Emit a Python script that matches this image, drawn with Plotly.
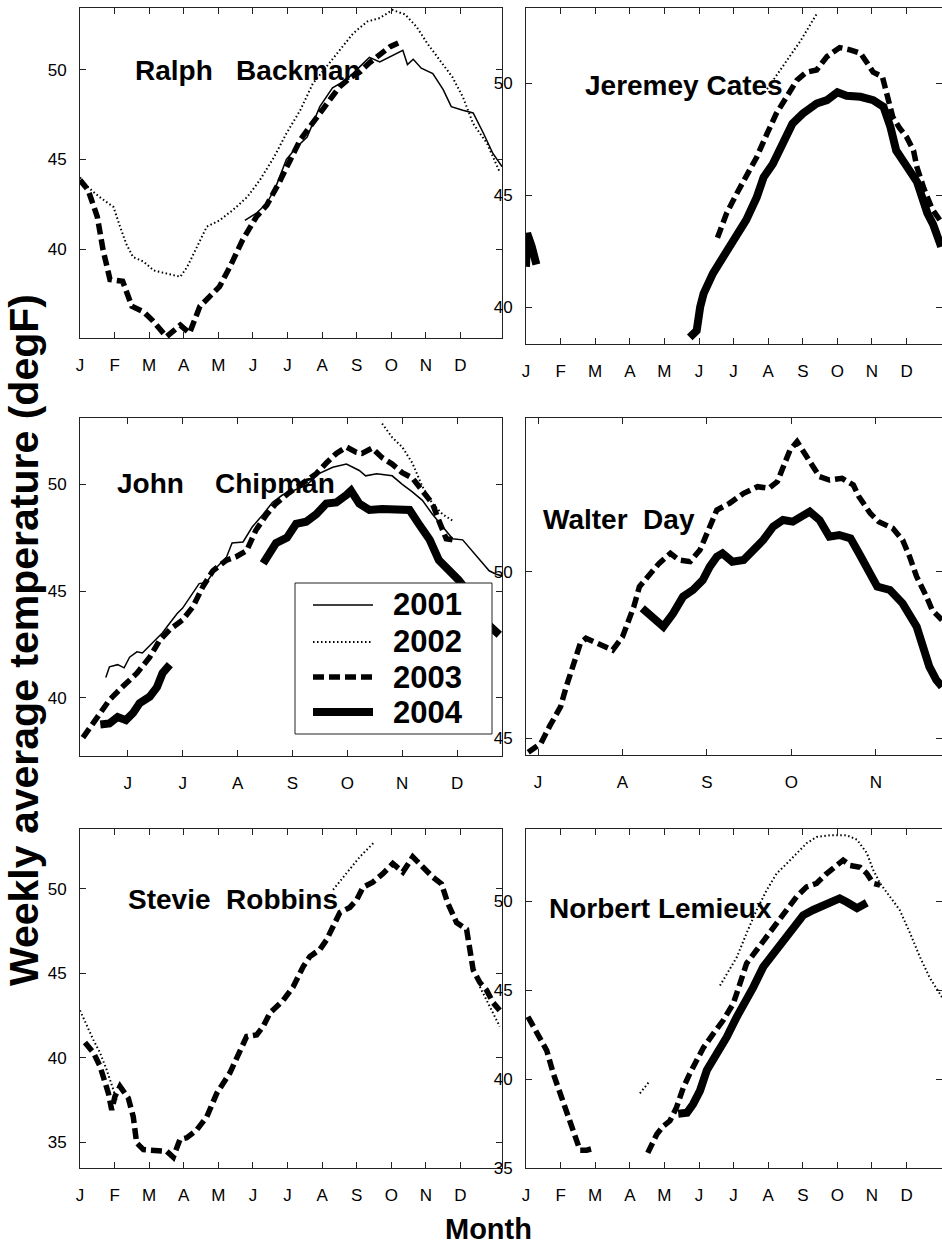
import plotly.graph_objects as go

# ---------------- data (day of year, weekly average temperature degF) ----------------
MONTH_TICKS = [0, 30, 60, 90, 120, 150, 180, 210, 240, 270, 300, 330]
MONTH_LABELS = ["J", "F", "M", "A", "M", "J", "J", "A", "S", "O", "N", "D"]
YEARS = ["2001", "2002", "2003", "2004"]
PANEL_NAMES = ["Ralph\u00a0\u00a0\u00a0Backman", "Jeremey Cates", "John\u00a0\u00a0\u00a0\u00a0Chipman",
               "Walter\u00a0\u00a0Day", "Stevie\u00a0\u00a0Robbins", "Norbert Lemieux"]

BACKMAN_2001_DAY = [143, 153, 162, 170, 179, 188, 197, 208, 219, 231, 243, 251, 260, 269, 280, 284, 289, 296, 306, 315, 322, 332, 341, 350, 358, 366]
BACKMAN_2001_T = [41.6, 42.0, 42.55, 43.5, 45.0, 45.7, 46.25, 47.95, 49.0, 49.45, 50.2, 50.7, 50.45, 50.75, 51.1, 50.3, 50.6, 50.1, 49.8, 48.9, 47.95, 47.75, 47.6, 46.45, 45.35, 44.6]
BACKMAN_2002_DAY = [0, 6, 17, 29, 35, 40, 46, 55, 64, 75, 87, 93, 101, 110, 121, 133, 145, 156, 168, 179, 191, 202, 214, 225, 237, 249, 260, 271, 282, 292, 301, 312, 323, 332, 341, 353, 364]
BACKMAN_2002_T = [44.0, 43.5, 42.9, 42.35, 41.2, 40.3, 39.55, 39.3, 38.8, 38.65, 38.45, 39.0, 40.1, 41.25, 41.6, 42.2, 42.9, 43.85, 45.1, 46.45, 47.75, 49.25, 50.2, 51.1, 52.05, 52.7, 52.9, 53.35, 53.1, 52.4, 51.5, 50.55, 49.6, 48.5, 47.0, 45.9, 44.3]
BACKMAN_2003_DAY = [0, 7, 15, 20, 26, 37, 45, 55, 63, 75, 87, 95, 104, 113, 121, 130, 141, 153, 162, 173, 182, 191, 199, 208, 217, 225, 234, 243, 251, 260, 269, 276]
BACKMAN_2003_T = [43.85, 43.3, 41.8, 39.95, 38.3, 38.2, 36.8, 36.5, 36.0, 35.1, 35.75, 35.3, 36.8, 37.4, 37.9, 39.0, 40.5, 41.8, 42.45, 43.75, 45.0, 46.1, 46.8, 47.6, 48.3, 49.05, 49.55, 49.9, 50.4, 50.85, 51.3, 51.5]

CATES_2002_DAY = [207, 215, 225, 238, 252]
CATES_2002_T = [49.6, 50.2, 50.9, 51.9, 53.1]
CATES_2003_DAY = [166, 174, 183, 191, 200, 209, 217, 226, 235, 243, 252, 261, 272, 281, 290, 296, 301, 309, 313, 318, 324, 330, 336, 339, 345, 352, 360]
CATES_2003_T = [43.1, 44.2, 45.1, 45.8, 46.7, 47.75, 48.65, 49.4, 50.15, 50.5, 50.6, 51.2, 51.6, 51.5, 51.35, 50.9, 50.5, 50.3, 49.4, 48.5, 48.0, 47.6, 47.0, 46.25, 45.3, 44.4, 43.8]
CATES_2004_DAY = [0, 1, 5, 9, None, 142, 148, 151, 154, 162, 171, 179, 191, 200, 206, 214, 223, 231, 240, 252, 261, 270, 278, 290, 301, 310, 316, 321, 330, 339, 348, 353, 360]
CATES_2004_T = [41.8, 43.3, 42.7, 41.9, None, 38.65, 38.95, 40.0, 40.6, 41.5, 42.25, 43.0, 43.9, 44.9, 45.8, 46.4, 47.45, 48.2, 48.65, 49.1, 49.25, 49.6, 49.45, 49.4, 49.25, 48.95, 48.05, 47.0, 46.3, 45.6, 44.2, 43.7, 42.7]

CHIPMAN_2001_DAY = [138, 140, 144.5, 148, 151, 155, 158, 164, 169, 173, 177, 180, 184, 189, 193, 198.5, 204, 207, 213, 218, 224, 229, 234.5, 240, 247.5, 254.5, 262, 269.5, 276.5, 280, 286, 294.5, 300, 305.5, 311, 316.5, 322, 327.5, 333, 338, 344, 347.5, 351, 355]
CHIPMAN_2001_T = [40.95, 41.45, 41.55, 41.4, 41.9, 42.15, 42.1, 42.6, 43.05, 43.5, 43.95, 44.2, 44.7, 45.35, 45.4, 46.1, 46.6, 47.25, 47.3, 48.0, 48.6, 49.15, 49.5, 49.7, 49.95, 50.5, 50.8, 50.95, 50.65, 50.4, 50.5, 50.4, 50.0, 49.65, 49.25, 48.6, 48.0, 47.45, 47.4, 46.9, 46.3, 45.95, 45.8, 45.7]
CHIPMAN_2002_DAY = [289, 294.5, 300, 305.5, 311, 316.5, 322, 327.5]
CHIPMAN_2002_T = [52.85, 52.2, 51.75, 51.0, 49.9, 49.1, 48.6, 48.3]
CHIPMAN_2003_DAY = [125.5, 133, 140, 147, 155, 162, 167.5, 173, 180, 185.5, 191, 196.5, 204, 209, 215, 220, 226, 231, 238, 245.5, 253, 258.5, 264, 269.5, 275, 278, 283.5, 289, 294.5, 300, 305.5, 311, 316.5, 320, 324, 327.5]
CHIPMAN_2003_T = [38.13, 39.1, 39.9, 40.5, 41.15, 41.9, 42.7, 43.2, 43.65, 44.25, 45.2, 45.95, 46.45, 46.6, 46.9, 47.85, 48.6, 49.1, 49.6, 50.05, 50.5, 51.0, 51.45, 51.75, 51.5, 51.45, 51.7, 51.25, 50.95, 50.55, 50.3, 49.7, 49.1, 48.3, 47.45, 47.4]
CHIPMAN_2004_DAY = [135, 140, 144.5, 149, 153, 156.5, 162, 166, 169, 173, None, 224, 227.5, 231, 237, 242, 247.5, 253, 258.5, 264, 269.5, 272, 276.5, 282, 289, 298, 304, 309, 315, 320, 325.5, 331, 338, 346, 353]
CHIPMAN_2004_T = [38.75, 38.8, 39.1, 38.95, 39.3, 39.75, 40.05, 40.5, 41.15, 41.55, None, 46.3, 46.8, 47.25, 47.5, 48.15, 48.25, 48.6, 49.1, 49.15, 49.5, 49.7, 49.1, 48.8, 48.85, 48.85, 48.8, 48.15, 47.4, 46.45, 46.0, 45.5, 44.7, 43.5, 42.95]

DAY_2003_DAY = [176.5, 181, 184, 188, 190, 192.5, 195, 197, 202, 206.5, 210, 214, 216, 220, 223, 227, 230, 234, 237.5, 240, 243.5, 248, 253, 258, 262, 265, 267, 269.5, 272, 274, 276.5, 280, 283.5, 288, 292, 294, 298, 301, 306, 309.5, 312, 314.5, 318, 320, 323.5]
DAY_2003_T = [44.58, 44.85, 45.35, 45.95, 46.55, 47.25, 47.85, 48.0, 47.8, 47.65, 48.05, 48.95, 49.55, 49.95, 50.25, 50.55, 50.35, 50.3, 50.65, 51.15, 51.85, 52.05, 52.35, 52.55, 52.5, 52.7, 53.15, 53.65, 53.9, 53.65, 53.3, 52.85, 52.75, 52.8, 52.6, 52.25, 51.75, 51.5, 51.3, 50.95, 50.45, 49.85, 49.25, 48.85, 48.55]
DAY_2004_DAY = [217, 220.5, 224.5, 228, 231.5, 235, 238.5, 241, 243.5, 245.5, 249, 253, 256, 260, 263.5, 267, 270.5, 274, 276.5, 280, 283.5, 287, 291, 294, 298, 300.5, 305, 309.5, 314.5, 316.5, 319, 321.5, 323.5]
DAY_2004_T = [48.9, 48.65, 48.35, 48.75, 49.25, 49.45, 49.75, 50.15, 50.45, 50.55, 50.3, 50.35, 50.6, 50.95, 51.35, 51.55, 51.5, 51.65, 51.8, 51.55, 51.05, 51.1, 51.0, 50.55, 49.95, 49.55, 49.45, 49.05, 48.35, 47.75, 47.15, 46.75, 46.55]

ROBBINS_2002_DAY = [0, 6, 11.6, 17.3, 23, 28.9, 31.8, None, 219.5, 231, 242.7, 255.7, None, 346.8, 352.6, 358.4, 364]
ROBBINS_2002_T = [42.8, 41.85, 41.05, 40.3, 39.3, 38.1, 37.5, None, 49.95, 50.9, 51.9, 52.8, None, 44.2, 43.4, 42.6, 41.85]
ROBBINS_2003_DAY = [4.3, 11.6, 17.3, 21.7, 24.6, 27.5, 30.3, 34.7, 41.9, 46.2, 49.1, 55, 66.5, 75.2, 80.9, 86.7, 92.5, 101, 110, 118.7, 130, 138.8, 144.5, 153.2, 158.9, 164.7, 176.3, 184.9, 193.6, 199.4, 208, 214, 219.5, 225.4, 234, 240, 245.4, 254, 262.7, 271.3, 280, 288.6, 297.3, 306, 313.5, 319, 326.6, 335.3, 341, 346.8, 352.6, 358.4, 364]
ROBBINS_2003_T = [40.9, 40.3, 39.5, 38.5, 37.9, 36.9, 37.7, 38.3, 37.6, 36.5, 34.95, 34.55, 34.45, 34.45, 34.1, 35.15, 35.25, 35.7, 36.5, 37.9, 39.1, 40.3, 41.25, 41.35, 41.85, 42.65, 43.4, 44.2, 45.4, 46.0, 46.4, 47.0, 47.75, 48.6, 48.9, 49.35, 50.1, 50.4, 50.9, 51.5, 51.0, 51.9, 51.3, 50.7, 50.3, 49.15, 48.0, 47.6, 45.2, 44.45, 44.0, 43.25, 42.8]

LEMIEUX_2002_DAY = [98.8, 107.5, None, 168.2, 174, 182.8, 191.3, 200, 208.6, 217.3, 226, 234.7, 243.3, 252, 263.5, 278, 287, 295.5, 301, 307, 315.6, 324, 333, 341.6, 350, 360.7]
LEMIEUX_2002_T = [39.2, 39.9, None, 45.25, 45.9, 46.85, 48.2, 49.5, 50.6, 51.55, 52.1, 52.7, 53.25, 53.6, 53.7, 53.7, 53.45, 52.7, 51.75, 51.0, 50.25, 49.5, 48.2, 46.85, 45.7, 44.6]
LEMIEUX_2003_DAY = [1.7, 9.5, 18, 23.7, 29.5, 35.3, 41, 46.8, 52.6, 58.3, None, 105.6, 113.4, 119, 124.8, 130.5, 136.3, 142, 148, 153.7, 162.4, 171, 179.8, 185.5, 191.3, 200, 208.6, 217.3, 226, 234.7, 243.3, 252, 260.7, 269.4, 275, 281, 289.7, 295.5, 301, 307]
LEMIEUX_2003_T = [43.5, 42.6, 41.6, 40.3, 39.2, 38.05, 37.1, 36.0, 36.0, 36.1, None, 35.85, 36.9, 37.35, 37.65, 38.4, 39.5, 40.3, 41.0, 41.75, 42.55, 43.3, 44.25, 45.4, 46.5, 47.25, 48.0, 48.75, 49.5, 50.25, 50.8, 51.0, 51.55, 52.0, 52.3, 52.0, 51.9, 51.55, 51.0, 50.9]
LEMIEUX_2004_DAY = [132, 139.6, 145, 150.9, 156.8, 165.4, 174, 182.8, 191.3, 197, 205.7, 214.3, 223, 231.6, 240.3, 249, 257.6, 266.3, 272, 278, 287, 295.5]
LEMIEUX_2004_T = [38.05, 38.1, 38.6, 39.35, 40.5, 41.4, 42.35, 43.5, 44.4, 45.15, 46.3, 47.05, 47.8, 48.55, 49.2, 49.5, 49.7, 49.95, 50.15, 49.95, 49.6, 49.9]

# ---------------- styles ----------------
W, H = 942, 1248
FONT = "Liberation Sans, Arial, Helvetica, sans-serif"
STYLE = {
    "2001": dict(width=1.5, dash="solid"),
    "2002": dict(width=2, dash="1.5px,2.5px"),
    "2003": dict(width=5.5, dash="11px,5px"),
    "2004": dict(width=8, dash="solid"),
}

def px_x(p):
    return p / W

def px_y(p):
    return 1 - p / H

PANELS = [
    dict(xd=(80, 502), yd=(8, 338), xr=[0, 366], yr=[35.03, 53.46], xt=MONTH_TICKS, yt=[35, 40, 45, 50],
         data={"2001": (BACKMAN_2001_DAY, BACKMAN_2001_T), "2002": (BACKMAN_2002_DAY, BACKMAN_2002_T),
               "2003": (BACKMAN_2003_DAY, BACKMAN_2003_T)},
         name=(133, 70)),
    dict(xd=(526, 942), yd=(8, 344), xr=[0, 360.7], yr=[38.35, 53.37], xt=MONTH_TICKS, yt=[40, 45, 50],
         data={"2002": (CATES_2002_DAY, CATES_2002_T), "2003": (CATES_2003_DAY, CATES_2003_T),
               "2004": (CATES_2004_DAY, CATES_2004_T)},
         name=(583, 86)),
    dict(xd=(80, 502), yd=(418, 756), xr=[123.9, 354.5], yr=[37.27, 53.11], xt=MONTH_TICKS[5:], yt=[40, 45, 50],
         data={"2001": (CHIPMAN_2001_DAY, CHIPMAN_2001_T), "2002": (CHIPMAN_2002_DAY, CHIPMAN_2002_T),
               "2003": (CHIPMAN_2003_DAY, CHIPMAN_2003_T), "2004": (CHIPMAN_2004_DAY, CHIPMAN_2004_T)},
         name=(115, 484)),
    dict(xd=(526, 942), yd=(418, 755), xr=[175.7, 323.5], yr=[44.5, 54.61], xt=MONTH_TICKS[6:11], yt=[45, 50],
         data={"2003": (DAY_2003_DAY, DAY_2003_T), "2004": (DAY_2004_DAY, DAY_2004_T)},
         name=(541, 519)),
    dict(xd=(80, 502), yd=(829, 1168), xr=[0, 366], yr=[33.46, 53.55], xt=MONTH_TICKS, yt=[35, 40, 45, 50],
         data={"2002": (ROBBINS_2002_DAY, ROBBINS_2002_T), "2003": (ROBBINS_2003_DAY, ROBBINS_2003_T)},
         name=(126, 899)),
    dict(xd=(526, 942), yd=(829, 1168), xr=[0, 360.7], yr=[35.0, 54.05], xt=MONTH_TICKS, yt=[35, 40, 45, 50],
         data={"2002": (LEMIEUX_2002_DAY, LEMIEUX_2002_T), "2003": (LEMIEUX_2003_DAY, LEMIEUX_2003_T),
               "2004": (LEMIEUX_2004_DAY, LEMIEUX_2004_T)},
         name=(547, 908)),
]

fig = go.Figure()
layout = dict(
    width=W, height=H, margin=dict(l=0, r=0, t=0, b=0),
    paper_bgcolor="white", plot_bgcolor="white", showlegend=False,
    font=dict(family=FONT, color="black"),
)
annotations = []
shapes = []

for i, p in enumerate(PANELS):
    k = "" if i == 0 else str(i + 1)
    lab = {t: MONTH_LABELS[MONTH_TICKS.index(t)] for t in p["xt"]}
    common = dict(ticks="inside", ticklen=6, tickwidth=1, tickcolor="#222", showline=True,
                  linecolor="#222", linewidth=1, mirror="ticks", showgrid=False, zeroline=False,
                  automargin=False, tickfont=dict(family=FONT, size=17, color="black"))
    layout["xaxis" + k] = dict(domain=[px_x(p["xd"][0]), px_x(p["xd"][1])], range=p["xr"],
                               tickmode="array", tickvals=p["xt"], ticktext=[lab[t] for t in p["xt"]],
                               anchor="y" + k, ticklabelstandoff=12, **common)
    layout["yaxis" + k] = dict(domain=[px_y(p["yd"][1]), px_y(p["yd"][0])], range=p["yr"],
                               tickmode="array", tickvals=p["yt"], ticktext=[str(v) for v in p["yt"]],
                               anchor="x" + k, ticklabelstandoff=9, **common)
    for yr_ in ["2002", "2001", "2003", "2004"]:
        if yr_ in p["data"]:
            xs, ys = p["data"][yr_]
            fig.add_trace(go.Scatter(x=xs, y=ys, mode="lines", name=yr_, connectgaps=False,
                                     line=dict(color="black", **STYLE[yr_]),
                                     xaxis="x" + k, yaxis="y" + k, showlegend=False,
                                     hoverinfo="x+y"))
    annotations.append(dict(text="<b>" + PANEL_NAMES[i] + "</b>", xref="paper", yref="paper",
                            x=px_x(p["name"][0]), y=px_y(p["name"][1]), xanchor="left", yanchor="middle",
                            showarrow=False, font=dict(family=FONT, size=28, color="black")))

# axis titles
annotations.append(dict(text="<b>Weekly average temperature (degF)</b>", xref="paper", yref="paper",
                        x=px_x(24), y=px_y(640), xanchor="center", yanchor="middle", textangle=-90,
                        showarrow=False, font=dict(family=FONT, size=41, color="black")))
annotations.append(dict(text="<b>Month</b>", xref="paper", yref="paper",
                        x=px_x(488), y=px_y(1229), xanchor="center", yanchor="middle",
                        showarrow=False, font=dict(family=FONT, size=29, color="black")))

# legend box (inside John Chipman panel)
shapes.append(dict(type="rect", xref="paper", yref="paper", x0=px_x(295), x1=px_x(492),
                   y0=px_y(734), y1=px_y(583), line=dict(color="#222", width=1), fillcolor="white",
                   layer="above"))
rows = [605, 642, 677, 712]
for yr_, ry in zip(YEARS, rows):
    shapes.append(dict(type="line", xref="paper", yref="paper", x0=px_x(313), x1=px_x(373),
                       y0=px_y(ry), y1=px_y(ry), line=dict(color="black", **STYLE[yr_]), layer="above"))
    annotations.append(dict(text="<b>" + yr_ + "</b>", xref="paper", yref="paper",
                            x=px_x(391), y=px_y(ry), xanchor="left", yanchor="middle",
                            showarrow=False, font=dict(family=FONT, size=31, color="black")))

layout["annotations"] = annotations
layout["shapes"] = shapes
fig.update_layout(**layout)
fig.write_html("out.html", config={"displayModeBar": False},
               post_script="document.body.style.margin='0';document.body.style.overflow='hidden';")
